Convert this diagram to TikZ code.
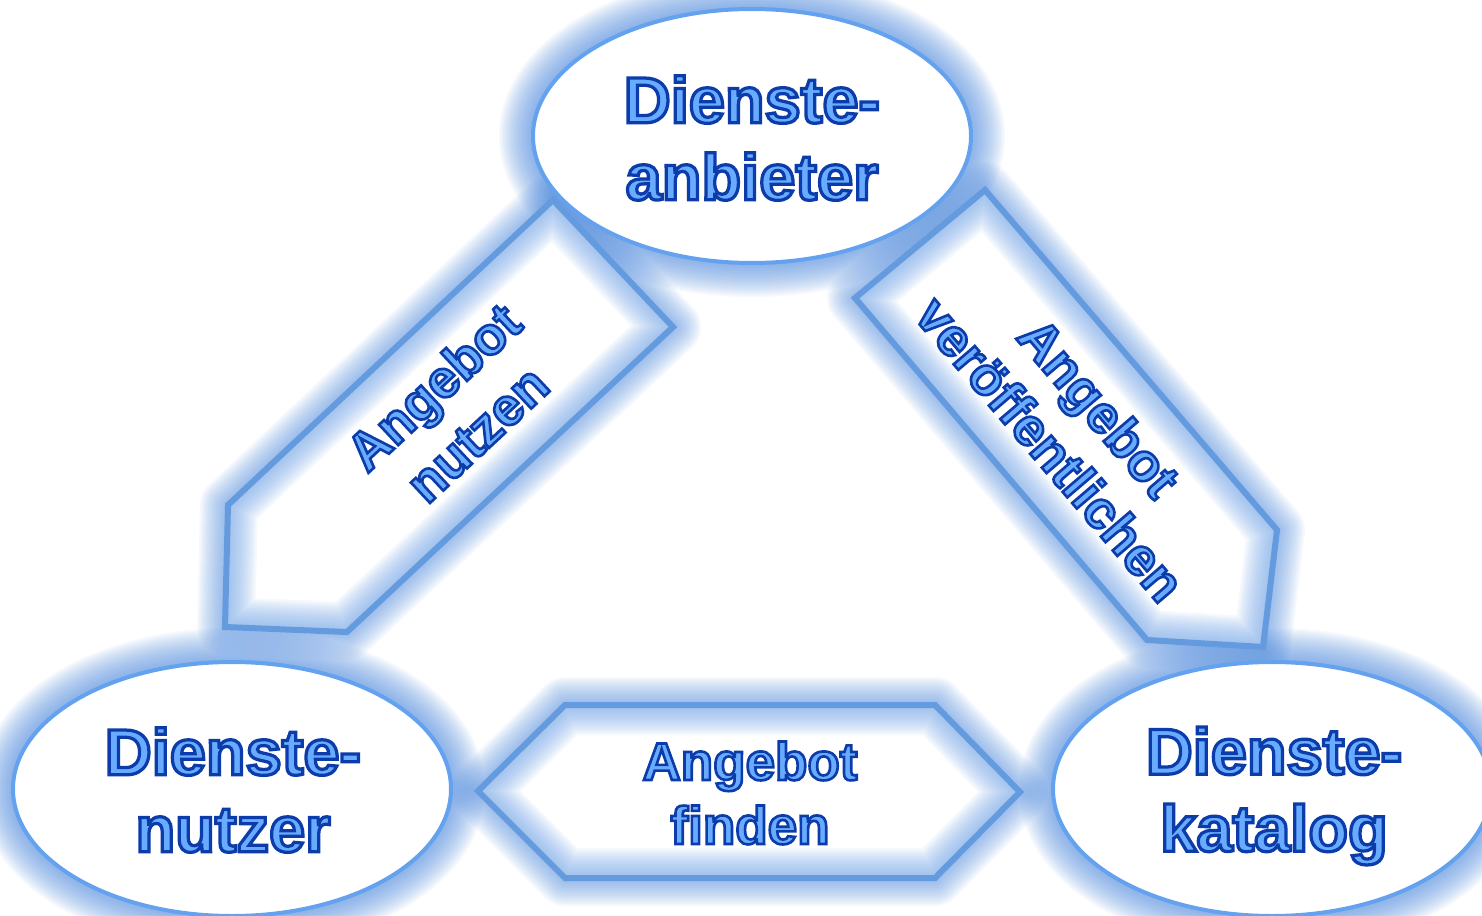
\documentclass[tikz,border=0pt]{standalone}
\usepackage{fontspec}
\newfontfamily\lblfont{Liberation Sans Bold}[FakeBold=5]
\usetikzlibrary{calc,shapes.geometric}
\definecolor{glowc}{RGB}{80,140,225}
\definecolor{inglow}{RGB}{120,170,235}
\definecolor{ellc}{RGB}{100,162,240}
\definecolor{arrc}{RGB}{100,155,222}
\definecolor{tfill}{RGB}{105,172,255}
\newcommand{\oltxt}[1]{\special{pdf:literal direct 0.047 0.235 0.667 RG}#1}
\tikzset{
  glowline/.style={draw=glowc, opacity=0.055, line join=round},
  innerglow/.style={draw=inglow, opacity=0.07, line join=round},
  ell/.style={ellipse, draw=ellc, line width=4pt, fill=white, minimum width=438pt, minimum height=254pt, inner sep=0pt},
  arrowbox/.style={draw=arrc, line width=6pt, line join=miter},
  bigfont/.style={font=\lblfont\fontsize{65}{77}\selectfont},
  smallfont/.style={font=\lblfont\fontsize{53}{64}\selectfont},
  lbl/.style={text=tfill, align=center, inner sep=0pt}
}
\begin{document}
\begin{tikzpicture}[x=1pt,y=-1pt]
\useasboundingbox (0,0) rectangle (1482,915);
\fill[white] (0,0) rectangle (1482,915);
% centres of the three ellipses
\coordinate (cA) at (752,136);
\coordinate (cN) at (232,789);
\coordinate (cK) at (1272,789);
% left arrow (Angebot nutzen)
\coordinate (l1) at (553,200);
\coordinate (l2) at (673,327);
\coordinate (l3) at (347,632);
\coordinate (l4) at (225,627);
\coordinate (l5) at (228,505);
% right arrow (Angebot veroeffentlichen)
\coordinate (r1) at (985,190);
\coordinate (r2) at (1277,530);
\coordinate (r3) at (1263,647);
\coordinate (r4) at (1147,640);
\coordinate (r5) at (855,298);
% hexagon (Angebot finden)
\coordinate (h1) at (478,791);
\coordinate (h2) at (565,705);
\coordinate (h3) at (935,705);
\coordinate (h4) at (1020,792);
\coordinate (h5) at (935,878);
\coordinate (h6) at (565,878);
% outer glows
\foreach \w in {4,8,...,68}{
  \draw[glowline, line width=\w pt] (cA) ellipse [x radius=219pt, y radius=127pt];
  \draw[glowline, line width=\w pt] (cN) ellipse [x radius=219pt, y radius=127pt];
  \draw[glowline, line width=\w pt] (cK) ellipse [x radius=219pt, y radius=127pt];
}
\foreach \w in {4,8,...,56}{
  \draw[glowline, line width=\w pt] (l1) -- (l2) -- (l3) -- (l4) -- (l5) -- cycle;
  \draw[glowline, line width=\w pt] (r1) -- (r2) -- (r3) -- (r4) -- (r5) -- cycle;
  \draw[glowline, line width=\w pt] (h1) -- (h2) -- (h3) -- (h4) -- (h5) -- (h6) -- cycle;
}
% arrow bodies with inner glow
\fill[white] (l1) -- (l2) -- (l3) -- (l4) -- (l5) -- cycle;
\fill[white] (r1) -- (r2) -- (r3) -- (r4) -- (r5) -- cycle;
\fill[white] (h1) -- (h2) -- (h3) -- (h4) -- (h5) -- (h6) -- cycle;
\begin{scope}
  \clip (l1) -- (l2) -- (l3) -- (l4) -- (l5) -- cycle;
  \foreach \w in {8,12,...,60}{\draw[innerglow, line width=\w pt] (l1) -- (l2) -- (l3) -- (l4) -- (l5) -- cycle;}
\end{scope}
\begin{scope}
  \clip (r1) -- (r2) -- (r3) -- (r4) -- (r5) -- cycle;
  \foreach \w in {8,12,...,60}{\draw[innerglow, line width=\w pt] (r1) -- (r2) -- (r3) -- (r4) -- (r5) -- cycle;}
\end{scope}
\begin{scope}
  \clip (h1) -- (h2) -- (h3) -- (h4) -- (h5) -- (h6) -- cycle;
  \foreach \w in {8,12,...,60}{\draw[innerglow, line width=\w pt] (h1) -- (h2) -- (h3) -- (h4) -- (h5) -- (h6) -- cycle;}
\end{scope}
\draw[arrowbox] (l1) -- (l2) -- (l3) -- (l4) -- (l5) -- cycle;
\draw[arrowbox] (r1) -- (r2) -- (r3) -- (r4) -- (r5) -- cycle;
\draw[arrowbox] (h1) -- (h2) -- (h3) -- (h4) -- (h5) -- (h6) -- cycle;
% ellipses
\node[ell] (A) at (cA) {};
\node[ell] (N) at (cN) {};
\node[ell] (K) at (cK) {};
% labels
\node[lbl, bigfont] (tA) at (752,138) {\oltxt{Dienste-}\\\oltxt{anbieter}};
\node[lbl, bigfont] (tN) at (233,790) {\oltxt{Dienste-}\\\oltxt{nutzer}};
\node[lbl, bigfont] (tK) at (1274,796) {\oltxt{Dienste-}\\\oltxt{katalog}};
\node[lbl, smallfont] (tF) at (750,793) {\oltxt{Angebot}\\\oltxt{finden}};
\node[lbl, smallfont, rotate=43] (tL) at (455,410) {\oltxt{Angebot}\\\oltxt{nutzen}};
\node[lbl, smallfont, rotate=-49.5] (tR) at (1075,428) {\oltxt{Angebot}\\\oltxt{veröffentlichen}};
\end{tikzpicture}
\end{document}
